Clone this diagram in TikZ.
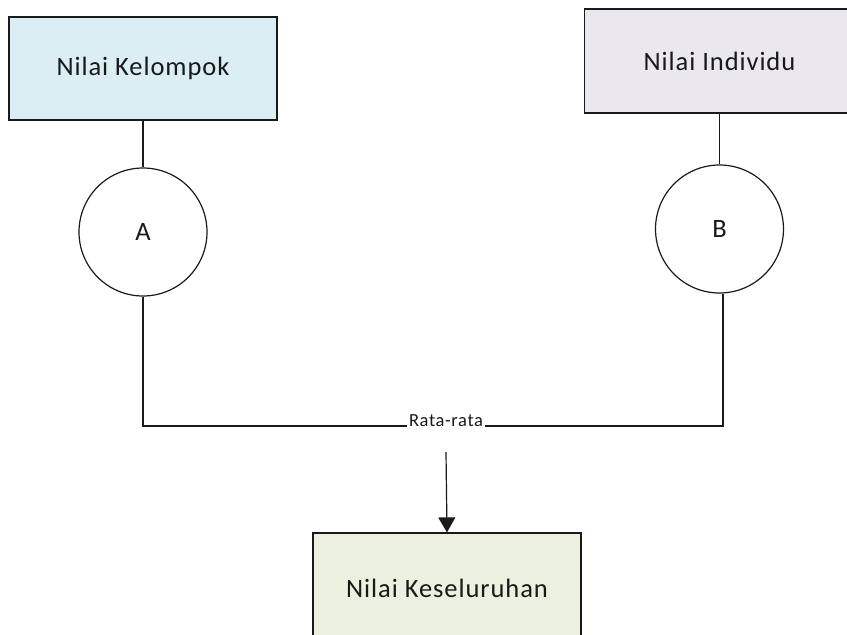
\documentclass[tikz,border=0pt]{standalone}
\usepackage{fontspec}
\setmainfont{Carlito}
\newfontfamily\labelfont[LetterSpace=3.5]{Carlito}
\usetikzlibrary{arrows.meta}
\definecolor{boxblue}{HTML}{DAEEF3}
\definecolor{boxlilac}{HTML}{EAE7EF}
\definecolor{boxgreen}{HTML}{EBF1DE}
\definecolor{edge}{HTML}{1A1A1A}
\begin{document}
\begin{tikzpicture}[x=1pt,y=-1pt,
  every node/.style={font=\labelfont\fontsize{26.5}{30}\selectfont, text=black!90},
  valuebox/.style={draw=edge, line width=1.2pt, rectangle, inner sep=0pt},
  grade/.style={draw=edge, line width=1.2pt, circle, minimum size=128pt, inner sep=0pt},
  link/.style={draw=edge, line width=1.2pt},
  avglabel/.style={font=\labelfont\fontsize{18.5}{22}\selectfont, inner sep=1.5pt}
]
\useasboundingbox (0,0) rectangle (847,635);

% source values
\node[valuebox, fill=boxblue, minimum width=268pt, minimum height=103pt] (grp) at (143,68.5) {Nilai Kelompok};
\node[valuebox, fill=boxlilac, minimum width=270pt, minimum height=104pt] (ind) at (719.5,61) {Nilai Individu};

% weights
\node[grade] (A) at (143,232) {A};
\node[grade] (B) at (719.5,229) {B};

% combined result
\node[valuebox, fill=boxgreen, minimum width=268pt, minimum height=110pt] (tot) at (447,588) {Nilai Keseluruhan};

% averaging line
\node[avglabel, anchor=base] (avg) at (446,426) {Rata-rata};
\coordinate (drop) at (446,452);

\draw[link] (grp.south) -- (A.north);
\draw[link] (ind.south) -- (B.north);
\draw[link] (A.south) |- (avg.base west);
\draw[link] (avg.base east) -| ([xshift=3.5pt]B.south);
\draw[link, -{Triangle[width=17pt,length=15pt]}] (drop) -- (tot.north);
\end{tikzpicture}
\end{document}
